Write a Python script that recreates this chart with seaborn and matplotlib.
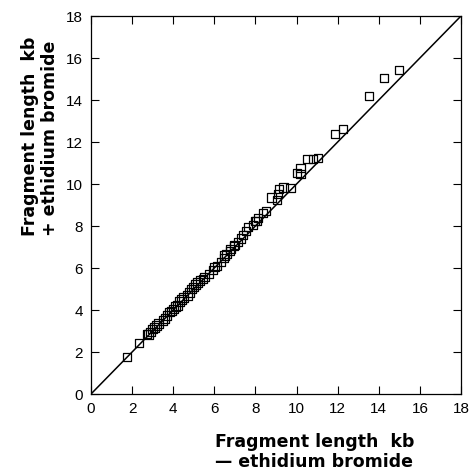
import matplotlib
matplotlib.use("Agg")
import matplotlib.pyplot as plt
import seaborn as sns
import pandas as pd

# fragment length without ethidium bromide (kb)
minus_etbr = [1.75, 2.33, 2.72, 2.8, 2.9, 3.0, 3.1, 3.2, 3.3, 3.5, 3.6, 3.7, 3.8, 3.9,
              4.0, 4.1, 4.2, 4.3, 4.4, 4.5, 4.7, 4.8, 4.9, 5.0, 5.1, 5.2, 5.3, 5.45,
              5.54, 5.74, 5.93, 6.0, 6.13, 6.32, 6.47, 6.5, 6.61, 6.76, 6.8, 6.96, 7.0, 7.15,
              7.3, 7.39, 7.54, 7.64, 7.88, 7.98, 8.07, 8.12, 8.37, 8.51, 8.8, 9.05, 9.1, 9.15,
              9.35, 9.7, 10.02, 10.21, 10.21, 10.55, 10.8, 11.04, 11.87, 12.26, 13.52, 14.25, 14.98]
# fragment length with ethidium bromide (kb)
plus_etbr = [1.76, 2.43, 2.86, 2.85, 2.95, 3.1, 3.15, 3.25, 3.35, 3.5, 3.6, 3.75, 3.9, 3.95,
             4.05, 4.15, 4.2, 4.4, 4.5, 4.6, 4.7, 4.85, 5.0, 5.1, 5.2, 5.3, 5.4, 5.48,
             5.57, 5.71, 5.9, 6.05, 6.1, 6.29, 6.48, 6.6, 6.67, 6.81, 6.9, 7.05, 7.1, 7.24,
             7.4, 7.57, 7.76, 7.95, 8.05, 8.24, 8.24, 8.38, 8.62, 8.71, 9.35, 9.24, 9.52, 9.76,
             9.85, 9.81, 10.52, 10.76, 10.48, 11.19, 11.19, 11.24, 12.38, 12.62, 14.19, 15.05, 15.43]
line_x = [0, 18]
ticks = [0, 2, 4, 6, 8, 10, 12, 14, 16, 18]

df = pd.DataFrame({"minus": minus_etbr, "plus": plus_etbr})

sns.set_style("ticks")
plt.rcParams["font.family"] = ["DejaVu Sans"]
plt.rcParams["text.color"] = "black"

fig = plt.figure(figsize=(4.74, 4.75), dpi=100)
L, R, T, B = 91, 461, 16, 394
ax = fig.add_axes([L / 474, 1 - B / 475, (R - L) / 474, (B - T) / 475])

ax.plot(line_x, line_x, color="black", lw=1.1, zorder=1)
sns.scatterplot(data=df, x="minus", y="plus", marker="s", s=40,
                facecolors="none", edgecolor="black", linewidth=0.9, ax=ax, zorder=2)

ax.set_xlim(0, 18)
ax.set_ylim(0, 18)
ax.set_xticks(ticks)
ax.set_yticks(ticks)
ax.tick_params(direction="in", length=6, width=0.8, top=True, right=True,
               labelsize=11, pad=6, colors="black")
for lab in ax.get_xticklabels() + ax.get_yticklabels():
    lab.set_family(["Liberation Sans", "DejaVu Sans"])
for s in ax.spines.values():
    s.set_linewidth(0.9)
    s.set_color("black")
ax.set_xlabel("")
ax.set_ylabel("")

fig.text(215 / 474, 1 - 452 / 475, "Fragment length  kb\n\u2014 ethidium bromide",
         ha="left", va="center", fontsize=12.5, fontweight="bold", linespacing=1.1,
         color="black")
fig.text(40 / 474, 1 - 236 / 475, "Fragment length  kb\n+ ethidium bromide",
         ha="center", va="bottom", rotation=90, fontsize=12.5, fontweight="bold",
         linespacing=1.1, multialignment="left", color="black")

fig.savefig("out.png", dpi=100)
